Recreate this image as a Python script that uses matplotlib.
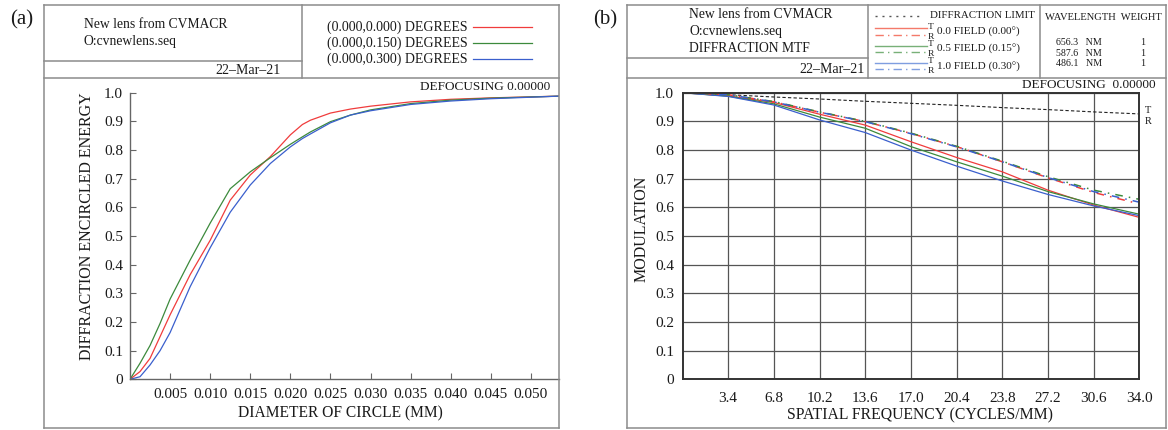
import numpy as np
import matplotlib
matplotlib.use('Agg')
import matplotlib.pyplot as plt
from matplotlib.lines import Line2D

plt.rcParams['font.family'] = ['Liberation Serif', 'DejaVu Serif']

W, H = 1168, 430

## panel (a): diffraction encircled energy
diameter = [0, .00125, .0025, .00375, .005, .0075, .010, .0125, .015, .0175,
            .020, .0215, .0225, .025, .0275, .030, .035, .040, .045, .0535]
ee_000 = [0, .027, .073, .149, .225, .365, .485, .625, .713, .777,
          .853, .889, .904, .929, .943, .953, .968, .977, .982, .988]
ee_150 = [0, .056, .118, .195, .280, .416, .545, .665, .724, .773,
          .820, .846, .863, .899, .922, .940, .962, .974, .981, .988]
ee_300 = [0, .009, .05, .10, .163, .323, .459, .583, .678, .753,
          .811, .840, .856, .895, .922, .937, .959, .971, .979, .988]
field_labels_a = ['(0.000,0.000) DEGREES', '(0.000,0.150) DEGREES', '(0.000,0.300) DEGREES']
x_ticks_a = [0.005, 0.010, 0.015, 0.020, 0.025, 0.030, 0.035, 0.040, 0.045, 0.050]

## panel (b): diffraction MTF
freq = [0, 3.4, 6.8, 10.2, 13.6, 17.0, 20.4, 23.8, 27.2, 30.6, 34.0]
diff_limit = [1.0, 0.993, 0.985, 0.978, 0.970, 0.963, 0.956, 0.948, 0.941, 0.933, 0.926]
t_00 = [1.0, 0.989, 0.966, 0.925, 0.887, 0.829, 0.774, 0.724, 0.660, 0.608, 0.565]
t_05 = [1.0, 0.988, 0.961, 0.915, 0.876, 0.812, 0.759, 0.709, 0.655, 0.612, 0.576]
t_10 = [1.0, 0.987, 0.957, 0.905, 0.861, 0.800, 0.744, 0.692, 0.645, 0.605, 0.571]
r_00 = [1.0, 0.993, 0.968, 0.932, 0.899, 0.858, 0.812, 0.759, 0.703, 0.652, 0.612]
r_05 = [1.0, 0.993, 0.969, 0.933, 0.900, 0.859, 0.813, 0.761, 0.707, 0.660, 0.628]
r_10 = [1.0, 0.993, 0.968, 0.932, 0.899, 0.857, 0.811, 0.759, 0.704, 0.655, 0.618]
field_labels_b = ['0.0 FIELD (0.00\u00b0)', '0.5 FIELD (0.15\u00b0)', '1.0 FIELD (0.30\u00b0)']
wavelengths = ['656.3', '587.6', '486.1']
weights = ['1', '1', '1']
y_ticks = [0, .1, .2, .3, .4, .5, .6, .7, .8, .9, 1.0]
y_tick_labels = ['0', '0.1', '0.2', '0.3', '0.4', '0.5', '0.6', '0.7', '0.8', '0.9', '1.0']

RED, GREEN, BLUE = '#f03c3c', '#3c8a3c', '#3a5fcd'
LRED, LGREEN, LBLUE = '#f47a6a', '#78b078', '#7f9ee0'
BOX = '#8c8c8c'
TXT = '#1a1a1a'

fig = plt.figure(figsize=(W / 100, H / 100), dpi=100)


def fx(px):
    return px / W


def fy(py):
    return 1 - py / H


def hline(x0, x1, y, **kw):
    kw.setdefault('color', BOX)
    kw.setdefault('lw', 1.1)
    fig.add_artist(Line2D([fx(x0), fx(x1)], [fy(y), fy(y)], transform=fig.transFigure, **kw))


def vline(x, y0, y1, **kw):
    kw.setdefault('color', BOX)
    kw.setdefault('lw', 1.1)
    fig.add_artist(Line2D([fx(x), fx(x)], [fy(y0), fy(y1)], transform=fig.transFigure, **kw))


def txt(x, y, s, size=9, ha='left', va='center', **kw):
    fig.text(fx(x), fy(y), s, fontsize=size, ha=ha, va=va, color=TXT, **kw)


# ---------------- panel (a) frame ----------------
txt(22, 20, '(a)', size=15, ha='center')
for x in (44, 559):
    vline(x, 5, 428)
for y in (5, 78, 428):
    hline(44, 559, y)
vline(301.5, 5, 78)
hline(44, 301.5, 61)
txt(84, 25, 'New lens from CVMACR', size=9.8)
txt(84, 42, 'O:cvnewlens.seq', size=9.8)
txt(281, 70, '22\u2013Mar\u201321', size=10, ha='right')
for i, (lab, col) in enumerate(zip(field_labels_a, [RED, GREEN, BLUE])):
    yy = 27 + i * 16
    txt(327, yy, lab, size=10)
    hline(473, 532, yy, color=col, lw=0.9)
txt(550, 87, 'DEFOCUSING 0.00000', size=9.5, ha='right')

axa = fig.add_axes([fx(130), fy(379.3), (559 - 130) / W, 286.6 / H])
axa.plot(diameter, ee_000, color=RED, lw=0.9)
axa.plot(diameter, ee_150, color=GREEN, lw=0.9)
axa.plot(diameter, ee_300, color=BLUE, lw=0.9)
axa.set_xlim(0, 0.0535)
axa.set_ylim(0, 1.0)
axa.set_xticks(x_ticks_a)
axa.set_xticklabels(['%.3f' % v for v in x_ticks_a])
axa.set_yticks(y_ticks)
axa.set_yticklabels(y_tick_labels)
for s in ('top', 'right'):
    axa.spines[s].set_visible(False)
for s in ('left', 'bottom'):
    axa.spines[s].set_color('#666666')
    axa.spines[s].set_linewidth(1.0)
axa.tick_params(axis='both', direction='in', length=4, width=0.8, color='#666666',
                labelsize=11, labelcolor=TXT)
axa.tick_params(axis='x', pad=6)
axa.tick_params(axis='y', pad=5)
txt(340, 413, 'DIAMETER OF CIRCLE (MM)', size=11.2, ha='center')
txt(87, 226, 'DIFFRACTION ENCIRCLED ENERGY', size=11.5, ha='center', rotation=90)

# ---------------- panel (b) frame ----------------
txt(605, 20, '(b)', size=15, ha='center')
for x in (627, 1166):
    vline(x, 5, 428)
for y in (5, 78, 428):
    hline(627, 1166, y)
vline(868.3, 5, 78)
vline(1040, 5, 78)
hline(627, 868.3, 58.3)
txt(689, 15, 'New lens from CVMACR', size=9.8)
txt(689, 32, 'O:cvnewlens.seq', size=9.8)
txt(689, 48, 'DIFFRACTION MTF', size=9.8)
txt(865, 69.5, '22\u2013Mar\u201321', size=10, ha='right')

hline(875, 922, 15.7, color='#555555', lw=1.0, ls=(0, (1.5, 3.5)))
txt(930, 15.7, 'DIFFRACTION LIMIT', size=7.8)
for i, (lab, col) in enumerate(zip(field_labels_b, [LRED, LGREEN, LBLUE])):
    y0 = 28.3 + i * 17.2
    hline(875, 927, y0, color=col, lw=1.0)
    hline(875, 927, y0 + 6.5, color=col, lw=1.0, ls=(0, (6, 3, 1, 3)))
    txt(931, y0 - 1.3, 'T', size=6.8, ha='center')
    txt(931, y0 + 8.3, 'R', size=6.8, ha='center')
    txt(937, y0 + 4, lab, size=8.1)

txt(1045, 18, 'WAVELENGTH  WEIGHT', size=7.6)
for i, (wl, wt) in enumerate(zip(wavelengths, weights)):
    yy = 42.7 + i * 10.3
    txt(1055.5, yy, wl + '   NM', size=7.2)
    txt(1143, yy, wt, size=7.2, ha='center')
txt(1156, 85, 'DEFOCUSING  0.00000', size=9.5, ha='right')
txt(1148, 110.7, 'T', size=7.5, ha='center')
txt(1148, 122, 'R', size=7.5, ha='center')

axb = fig.add_axes([fx(682.5), fy(379.3), (1139.3 - 682.5) / W, 286.6 / H])
axb.plot(freq, diff_limit, color='#222222', lw=0.8, ls=(0, (3, 2)))
axb.plot(freq, t_00, color=RED, lw=0.9)
axb.plot(freq, t_05, color=GREEN, lw=0.9)
axb.plot(freq, t_10, color=BLUE, lw=0.9)
axb.plot(freq, r_00, color=RED, lw=1.1, ls=(0, (5, 4, 1, 4)))
axb.plot(freq, r_05, color=GREEN, lw=1.1, ls=(2, (5, 4, 1, 4)))
axb.plot(freq, r_10, color=BLUE, lw=1.1, ls=(4, (5, 4, 1, 4)))
axb.set_xlim(0, 34)
axb.set_ylim(0, 1.0)
axb.set_xticks(freq[1:])
axb.set_xticklabels(['%.1f' % v for v in freq[1:]])
axb.set_yticks(y_ticks)
axb.set_yticklabels(y_tick_labels)
axb.grid(True, color='#555555', lw=0.9)
axb.set_axisbelow(True)
for s in axb.spines.values():
    s.set_color('#333333')
    s.set_linewidth(1.4)
axb.tick_params(axis='both', length=0, labelsize=11, labelcolor=TXT)
axb.tick_params(axis='x', pad=9)
axb.tick_params(axis='y', pad=6)
txt(920, 415, 'SPATIAL FREQUENCY (CYCLES/MM)', size=11.3, ha='center')
txt(641.6, 229, 'MODULATION', size=11.5, ha='center', rotation=90)

fig.savefig('out.png', dpi=100, facecolor='white')
